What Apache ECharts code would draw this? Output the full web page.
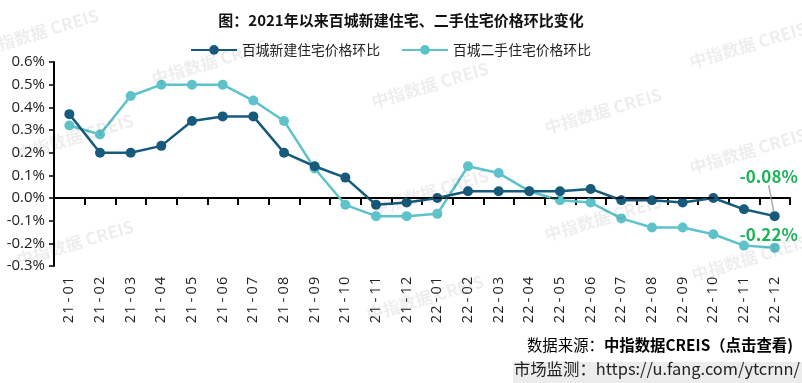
<!DOCTYPE html>
<html><head><meta charset="utf-8">
<script src="https://cdn.jsdelivr.net/npm/echarts@6/dist/echarts.min.js"></script>
<style>html,body{margin:0;padding:0;background:#fff}#c{width:802px;height:383px}</style>
</head><body><div id="c"></div>
<script>
const titleText = '图：2021年以来百城新建住宅、二手住宅价格环比变化';
const seriesNames = ['百城新建住宅价格环比', '百城二手住宅价格环比'];
const categories = ['21-01','21-02','21-03','21-04','21-05','21-06','21-07','21-08','21-09','21-10','21-11','21-12',
  '22-01','22-02','22-03','22-04','22-05','22-06','22-07','22-08','22-09','22-10','22-11','22-12'];
const newHome = [0.37,0.20,0.20,0.23,0.34,0.36,0.36,0.20,0.14,0.09,-0.03,-0.02,0.00,0.03,0.03,0.03,0.03,0.04,-0.01,-0.01,-0.02,0.00,-0.05,-0.08];
const secondHand = [0.32,0.28,0.45,0.50,0.50,0.50,0.43,0.34,0.13,-0.03,-0.08,-0.08,-0.07,0.14,0.11,0.03,-0.01,-0.02,-0.09,-0.13,-0.13,-0.16,-0.21,-0.22];
const yMin = -0.3, yMax = 0.6, yStep = 0.1;
const sourceLabel = '数据来源：';
const sourceLink = '中指数据CREIS（点击查看)';
const monitorText = '市场监测：https://u.fang.com/ytcrnn/';
const watermark = '中指数据 CREIS';

const DARK = '#175a7b', CYAN = '#5ec2ca', GREEN = '#1fb45a';
const FONT = '"Noto Sans CJK SC", "Noto Sans", sans-serif';
const last = categories.length - 1;

function lastLabelData(arr) {
  return arr.map((v, i) => i === last ? {
    value: v,
    label: { show: true, formatter: p => p.value.toFixed(2) + '%' }
  } : v);
}

const wmPos = [[40,32],[75,137],[75,243],[430,85],[430,192],[425,298],[603,111],[603,218],[748,45],[748,151],[750,258],[210,62]];
const wmGraphics = wmPos.map(p => ({
  type: 'text', x: p[0], y: p[1], rotation: 0.29, z: 100, silent: true,
  style: { text: watermark, fill: 'rgba(0,0,0,0.07)', font: 'bold 17px ' + FONT, align: 'center', verticalAlign: 'middle' }
}));

const chart = echarts.init(document.getElementById('c'));
chart.setOption({
  animation: false,
  backgroundColor: '#fff',
  title: {
    text: titleText, left: 'center', top: 8,
    textStyle: { fontFamily: FONT, fontSize: 15, fontWeight: 'bold', color: '#111' }
  },
  legend: {
    top: 38, left: 185, itemWidth: 46, itemHeight: 12, itemGap: 21,
    textStyle: { fontFamily: FONT, fontSize: 13.8, color: '#222' },
    data: seriesNames
  },
  grid: { left: 54, right: 12, top: 62, bottom: 117 },
  xAxis: {
    type: 'category', data: categories, boundaryGap: true,
    axisLine: { lineStyle: { color: '#000', width: 2 } },
    axisTick: { show: true, length: 7, lineStyle: { color: '#000', width: 2 } },
    axisLabel: {
      rotate: 90, margin: 10, interval: 0, color: '#222',
      formatter: v => v.split('').map(ch => '{c|' + ch + '}').join(''),
      rich: { c: { fontFamily: '"Open Sans", sans-serif', fontSize: 14.5, color: '#222', width: 9.6, align: 'center' } }
    },
    splitLine: { show: false }
  },
  yAxis: {
    type: 'value', min: yMin, max: yMax, interval: yStep,
    axisLine: { show: true, lineStyle: { color: '#000', width: 2 } },
    axisTick: { show: true, length: 5, lineStyle: { color: '#000', width: 1.5 } },
    axisLabel: {
      margin: 9, color: '#222', fontFamily: '"Open Sans", sans-serif', fontSize: 15,
      formatter: v => (Math.abs(v) < 1e-9 ? 0 : v).toFixed(1) + '%'
    },
    splitLine: { show: false }
  },
  series: [
    {
      name: seriesNames[0], type: 'line', data: lastLabelData(newHome), z: 3,
      symbol: 'circle', symbolSize: 10,
      lineStyle: { color: DARK, width: 2.5 }, itemStyle: { color: DARK },
      label: { show: false, position: 'top', color: GREEN, fontFamily: FONT, fontSize: 17, fontWeight: 'bold' },
      labelLayout: p => p.dataIndex === last ? { dx: -6, dy: -21 } : {},
      labelLine: { show: true, lineStyle: { color: '#aaa', width: 1.5 } },
      markLine: {
        silent: true, symbol: 'none', label: { show: false },
        lineStyle: { color: '#000', type: [8, 5], width: 1.5 },
        data: [[{ coord: [categories[0], 0] }, { coord: [categories[last], 0] }]]
      }
    },
    {
      name: seriesNames[1], type: 'line', data: lastLabelData(secondHand), z: 2,
      symbol: 'circle', symbolSize: 10,
      lineStyle: { color: CYAN, width: 2.5 }, itemStyle: { color: CYAN },
      label: { show: false, position: 'top', distance: 1, offset: [-6, 1], color: GREEN, fontFamily: FONT, fontSize: 17, fontWeight: 'bold' }
    }
  ],
  graphic: wmGraphics.concat([
    {
      type: 'text', right: 9, top: 337, silent: true,
      style: {
        text: '{a|' + sourceLabel + '}{b|' + sourceLink + '}',
        rich: {
          a: { fontFamily: FONT, fontSize: 15.4, color: '#111' },
          b: { fontFamily: FONT, fontSize: 15.4, fontWeight: 'bold', color: '#45628f' }
        }
      }
    },
    { type: 'rect', shape: { x: 513, y: 362, width: 289, height: 21 }, style: { fill: '#ececec' }, silent: true },
    {
      type: 'text', right: 2, top: 361, silent: true,
      style: { text: monitorText, fontFamily: FONT, fontSize: 16.4, fill: '#222' }
    }
  ])
});
</script></body></html>
